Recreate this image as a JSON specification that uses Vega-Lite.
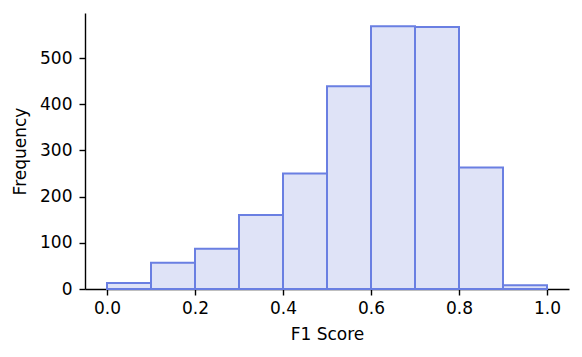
{
  "$schema": "https://vega.github.io/schema/vega-lite/v6.json",
  "autosize": {"type": "none"},
  "padding": {"left": 85, "top": 13, "right": 13, "bottom": 68},
  "width": 484,
  "height": 276,
  "background": "white",
  "config": {
    "view": {"stroke": null},
    "font": "DejaVu Sans",
    "axis": {
      "labelFont": "DejaVu Sans",
      "titleFont": "DejaVu Sans",
      "labelFontSize": 17,
      "titleFontSize": 17,
      "titleFontWeight": "normal",
      "labelColor": "#000000",
      "titleColor": "#000000",
      "domainColor": "#000000",
      "tickColor": "#000000",
      "domainWidth": 1.4,
      "tickWidth": 1.4,
      "tickSize": 6,
      "grid": false
    }
  },
  "data": {
    "values": [
      {"bin_start": 0.0, "bin_end": 0.1, "count": 13},
      {"bin_start": 0.1, "bin_end": 0.2, "count": 57},
      {"bin_start": 0.2, "bin_end": 0.3, "count": 87},
      {"bin_start": 0.3, "bin_end": 0.4, "count": 160},
      {"bin_start": 0.4, "bin_end": 0.5, "count": 250},
      {"bin_start": 0.5, "bin_end": 0.6, "count": 439},
      {"bin_start": 0.6, "bin_end": 0.7, "count": 569},
      {"bin_start": 0.7, "bin_end": 0.8, "count": 567},
      {"bin_start": 0.8, "bin_end": 0.9, "count": 263},
      {"bin_start": 0.9, "bin_end": 1.0, "count": 8}
    ]
  },
  "mark": {"type": "bar", "fill": "#dfe3f7", "stroke": "#6a7fe2", "strokeWidth": 2, "clip": false},
  "encoding": {
    "x": {
      "field": "bin_start",
      "type": "quantitative",
      "scale": {"domain": [-0.05, 1.05], "nice": false, "zero": false},
      "axis": {
        "title": "F1 Score",
        "values": [0, 0.2, 0.4, 0.6, 0.8, 1.0],
        "format": ".1f",
        "labelPadding": 5,
        "titlePadding": 10,
        "labelFlush": false
      }
    },
    "x2": {"field": "bin_end"},
    "y": {
      "field": "count",
      "type": "quantitative",
      "scale": {"domain": [0, 597.5], "nice": false},
      "axis": {
        "title": "Frequency",
        "values": [0, 100, 200, 300, 400, 500],
        "labelPadding": 7,
        "titlePadding": 10,
        "labelFlush": false
      }
    },
    "y2": {"datum": 0}
  }
}
